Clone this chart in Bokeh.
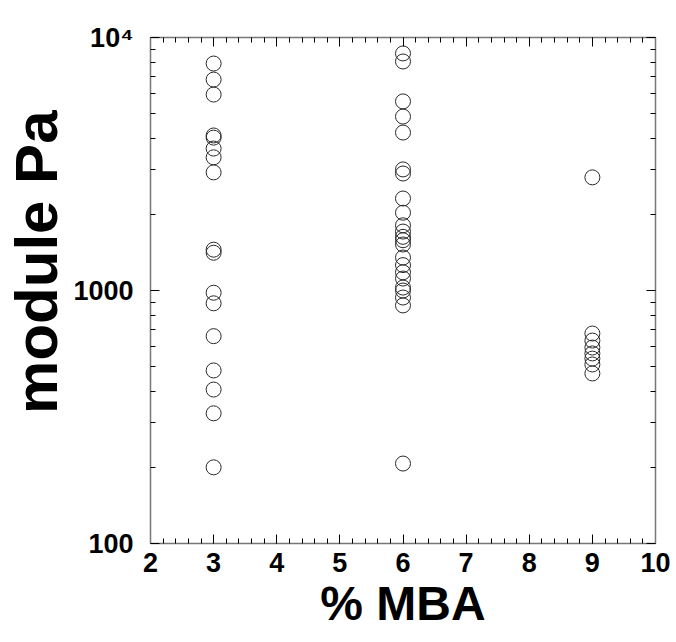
from bokeh.plotting import figure
from bokeh.models import (Range1d, LinearAxis, LogAxis, SingleIntervalTicker, FixedTicker,
                          ColumnDataSource, Title)
from bokeh.embed import file_html
from bokeh.resources import INLINE

# ---- data ----
mba_levels = [3, 6, 9]
modulus_3 = [7890, 6820, 5950, 4100, 4020, 3640, 3360, 2930, 1450, 1410,
             980, 890, 660, 483, 406, 327, 200]
modulus_6 = [8650, 8040, 5590, 4870, 4210, 3010, 2900, 2310, 2030, 1810,
             1710, 1630, 1580, 1520, 1350, 1260, 1180, 1115, 1027, 1000,
             938, 873, 207]
modulus_9 = [2800, 676, 634, 595, 564, 538, 510, 470]

y_tick_values = [100, 1000, 10000]
y_tick_labels = ["100", "1000", "10\u2074"]
x_tick_values = [2, 3, 4, 5, 6, 7, 8, 9, 10]
x_title = "% MBA"
y_title = "module Pa"

xs, ys = [], []
for lvl, vals in zip(mba_levels, [modulus_3, modulus_6, modulus_9]):
    xs += [lvl] * len(vals)
    ys += vals
src = ColumnDataSource(dict(x=xs, y=ys))

FONT = "Liberation Sans"

p = figure(frame_width=505, frame_height=506, x_range=Range1d(2, 10), y_range=Range1d(100, 10000),
           y_axis_type="log", output_backend="svg", toolbar_location=None,
           min_border_left=150, min_border_right=21, min_border_top=37, min_border_bottom=99)
p.background_fill_color = "white"
p.border_fill_color = "white"
p.outline_line_color = None
p.xgrid.visible = False
p.ygrid.visible = False

minor_y = [m * d for d in (100, 1000) for m in range(2, 10)]

AX_COLOR = "#777777"

def style_axis(ax, show_labels):
    ax.axis_line_color = AX_COLOR
    ax.axis_line_width = 1.5
    ax.major_tick_line_color = "black"
    ax.minor_tick_line_color = "black"
    ax.major_tick_in = 9
    ax.major_tick_out = 0
    ax.minor_tick_in = 5
    ax.minor_tick_out = 0
    ax.major_tick_line_width = 1
    ax.minor_tick_line_width = 1
    ax.major_label_text_font = FONT
    ax.major_label_text_font_style = "bold"
    ax.major_label_text_font_size = "27px"
    ax.major_label_text_color = "black"
    if not show_labels:
        ax.major_label_standoff = 0

xa = p.xaxis[0]
xa.ticker = SingleIntervalTicker(interval=1, num_minor_ticks=5)
style_axis(xa, True)
xa.major_label_standoff = 9

ya = p.yaxis[0]
ya.ticker = FixedTicker(ticks=y_tick_values, minor_ticks=minor_y)
ya.major_label_overrides = {v: s for v, s in zip(y_tick_values, y_tick_labels)}
style_axis(ya, True)
ya.major_label_standoff = 17

xtitle = Title(text=x_title, align="center", vertical_align="bottom", standoff=0,
               text_font=FONT, text_font_style="bold", text_font_size="48px",
               text_color="black")
p.add_layout(xtitle, "below")

ytitle = Title(text=y_title, align="right", vertical_align="middle", offset=73, standoff=0,
               text_font=FONT, text_font_style="bold", text_font_size="60px",
               text_color="black")
p.add_layout(ytitle, "left")

top = LinearAxis(ticker=SingleIntervalTicker(interval=1, num_minor_ticks=5))
style_axis(top, False)
top.major_label_overrides = {v: "" for v in x_tick_values}
p.add_layout(top, "above")

right = LogAxis(ticker=FixedTicker(ticks=y_tick_values, minor_ticks=minor_y))
style_axis(right, False)
right.major_label_overrides = {v: "" for v in y_tick_values}
p.add_layout(right, "right")

p.scatter("x", "y", source=src, marker="circle", size=15,
          fill_color=None, line_color="#2a2a2a", line_width=1)

open("out.html", "w").write(file_html(p, INLINE))
